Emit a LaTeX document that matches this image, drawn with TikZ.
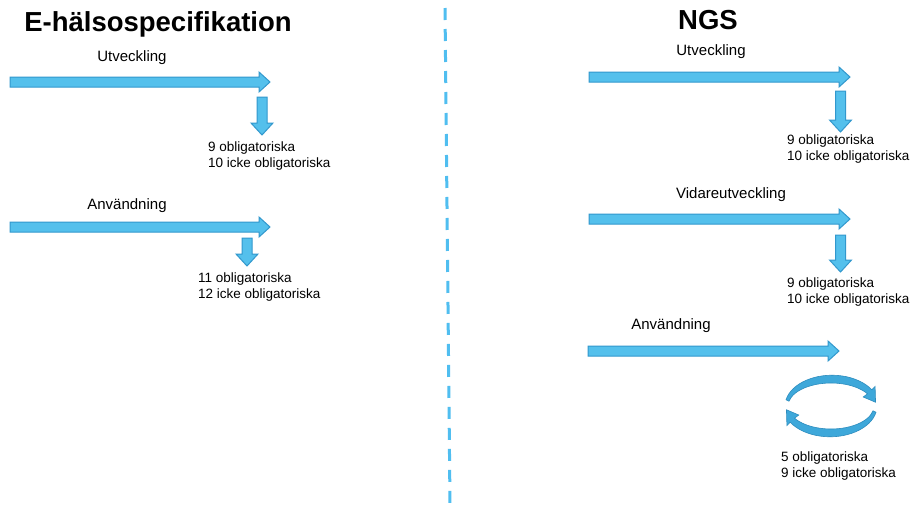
\documentclass[tikz,border=0pt]{standalone}
\usepackage{fontspec}
\setmainfont{Liberation Sans}
\definecolor{arrfill}{RGB}{84,192,236}
\definecolor{arrline}{RGB}{50,152,205}
\definecolor{cycfill}{RGB}{62,168,218}
\definecolor{cycline}{RGB}{45,140,190}
\definecolor{dashcol}{RGB}{80,190,240}
\tikzset{
  blockarrow/.style={fill=arrfill, draw=arrline, line width=1pt, line join=miter},
  cyclearrow/.style={fill=cycfill, draw=cycline, line width=0.6pt},
  titletext/.style={font=\fontsize{27.5}{32}\selectfont\bfseries, inner sep=0pt},
  lbltext/.style={font=\fontsize{15}{18}\selectfont, inner sep=0pt},
  cnttext/.style={font=\fontsize{13.5}{16}\selectfont, anchor=west, align=left, inner sep=0pt},
}
\newcommand{\harr}[3]{\filldraw[blockarrow] (#1,#3-5) -- (#2-11,#3-5) -- (#2-11,#3-10) -- (#2,#3) -- (#2-11,#3+10) -- (#2-11,#3+5) -- (#1,#3+5) -- cycle;}
\newcommand{\varr}[3]{\filldraw[blockarrow] (#1-5,#2) -- (#1+5,#2) -- (#1+5,#3-12) -- (#1+11,#3-12) -- (#1,#3) -- (#1-11,#3-12) -- (#1-5,#3-12) -- cycle;}
\begin{document}
\begin{tikzpicture}[x=1pt,y=-1pt]
\useasboundingbox (0,0) rectangle (911,504);
\fill[white] (0,0) rectangle (911,504);
% divider
\draw[dashcol, line width=3pt, dash pattern=on 12pt off 9pt] (445,8) -- (450,504);
% titles
\node[titletext] (t1) at (158,24) {E-hälsospecifikation};
\node[titletext] (t2) at (708,20) {NGS};
% left side
\node[lbltext] (l1) at (132,58) {Utveckling};
\harr{10}{270}{82}
\varr{262}{97}{135}
\node[cnttext] (c1) at (208,156) {9 obligatoriska\\10 icke obligatoriska};
\node[lbltext] (l2) at (127,206) {Användning};
\harr{10}{270}{227}
\varr{247}{238}{266}
\node[cnttext] (c2) at (198,287) {11 obligatoriska\\12 icke obligatoriska};
% right side
\node[lbltext] (r1) at (711,52) {Utveckling};
\harr{589}{850}{77}
\varr{840.5}{91}{132}
\node[cnttext] (c3) at (787,149) {9 obligatoriska\\10 icke obligatoriska};
\node[lbltext] (r2) at (731,195) {Vidareutveckling};
\harr{589}{850}{219}
\varr{840.5}{235}{272}
\node[cnttext] (c4) at (787,292) {9 obligatoriska\\10 icke obligatoriska};
\node[lbltext] (r3) at (671,326) {Användning};
\harr{588}{839}{351}
% cycle arrows
\begin{scope}[shift={(831,406)}]
\filldraw[cyclearrow] (192:46 and 30) arc[start angle=192, end angle=328, x radius=47, y radius=31]
  -- (328:52 and 37) -- (352:45 and 27) -- (328:38 and 17)
  -- (328:43 and 23) arc[start angle=328, end angle=192, x radius=43, y radius=23] -- cycle;
\filldraw[cyclearrow] (12:46 and 30) arc[start angle=12, end angle=148, x radius=47, y radius=31]
  -- (148:52 and 37) -- (172:45 and 27) -- (148:38 and 17)
  -- (148:43 and 23) arc[start angle=148, end angle=12, x radius=43, y radius=23] -- cycle;
\end{scope}
\node[cnttext] (c5) at (781,466) {5 obligatoriska\\9 icke obligatoriska};
\end{tikzpicture}
\end{document}
